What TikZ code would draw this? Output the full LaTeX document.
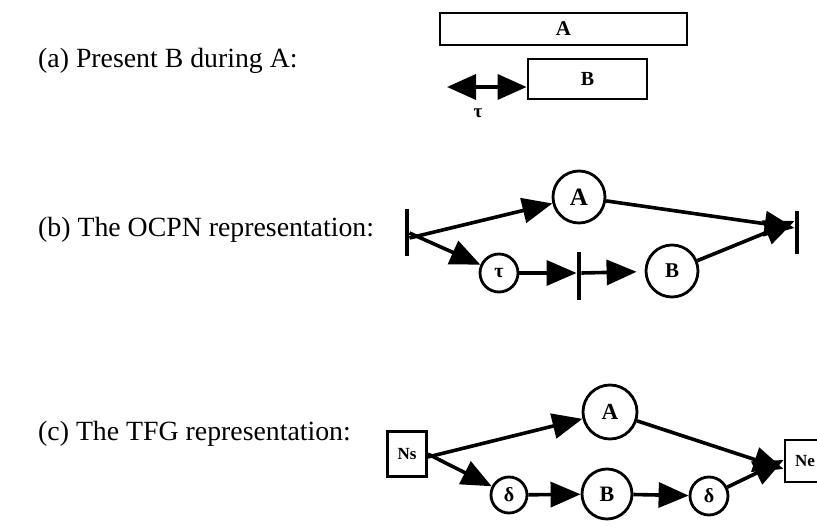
\documentclass[tikz,border=0pt]{standalone}
\usepackage{fontspec}
\setmainfont{Liberation Serif}
\usetikzlibrary{arrows.meta}
\begin{document}
\begin{tikzpicture}[x=1pt,y=-1pt,
  lbl/.style={anchor=base west,inner sep=0pt,font=\fontsize{27.8}{30}\selectfont},
  wire/.style={line width=3.6pt,-{Triangle[length=30pt,width=25pt]}},
  tbar/.style={fill=black,draw=none,minimum width=4.5pt,inner sep=0pt},
  place/.style={circle,draw,line width=2.8pt,inner sep=0pt},
  box/.style={rectangle,draw,line width=2.8pt,inner sep=0pt}]
\useasboundingbox (0,0) rectangle (817,529);

% (a) interval relation
\node[lbl] (la) at (38,68) {(a) Present B during A:};
\node[box,minimum width=247pt,minimum height=32pt,font=\bfseries\fontsize{21}{22}\selectfont] (boxA) at (563.5,29) {A};
\node[box,minimum width=119pt,minimum height=40pt,font=\bfseries\fontsize{20}{22}\selectfont] (boxB) at (587.5,79) {B};
\coordinate (dl) at (447,87);
\draw[line width=3.6pt,{Triangle[length=29pt,width=25pt]}-{Triangle[length=29pt,width=25pt]}] (dl) -- (dl -| boxB.west);
\node[font=\bfseries\fontsize{19}{20}\selectfont] (tau) at (478,113) {τ};

% (b) OCPN
\node[lbl] (lb) at (38,237) {(b) The OCPN representation:};
\node[tbar,minimum height=47pt] (barL) at (407,233) {};
\node[tbar,minimum height=48pt] (barM) at (579,276) {};
\node[tbar,minimum height=43pt] (barR) at (797,233) {};
\node[place,minimum size=52pt,font=\bfseries\fontsize{25}{26}\selectfont] (pA) at (579,197) {A};
\node[place,minimum size=38pt,font=\bfseries\fontsize{20}{22}\selectfont] (pT) at (499,273) {τ};
\node[place,minimum size=52pt,font=\bfseries\fontsize{21}{22}\selectfont] (pB) at (672,271) {\raisebox{-6pt}{B}};
\draw[wire] ([yshift=-5pt]barL.east) -- (pA);
\draw[wire] (barL.east) -- (pT);
\draw[wire] (pT) -- (pT -| barM.west);
\draw[wire,shorten >=8pt] (barM.east |- pT) -- (pB);
\draw[wire] (pA) -- ([yshift=5pt]barR.west);
\draw[wire] (pB) -- ([yshift=12pt]barR.west);

% (c) TFG
\node[lbl] (lc) at (38,440) {(c) The TFG representation:};
\node[box,minimum width=39pt,minimum height=45pt,font=\bfseries\fontsize{17}{18}\selectfont] (Ns) at (407,454) {Ns};
\node[box,minimum width=40pt,minimum height=42pt,font=\bfseries\fontsize{17}{18}\selectfont] (Ne) at (805,461) {Ne};
\node[place,minimum size=54pt,font=\bfseries\fontsize{23}{24}\selectfont] (cA) at (610,412) {A};
\node[place,minimum size=36pt,font=\bfseries\fontsize{20}{22}\selectfont] (d1) at (509,495) {δ};
\node[place,minimum size=50pt,font=\bfseries\fontsize{22}{24}\selectfont] (cB) at (607,494) {B};
\node[place,minimum size=38pt,font=\bfseries\fontsize{20}{22}\selectfont] (d2) at (709,496) {δ};
\draw[wire] ([yshift=-3pt]Ns.east) -- (cA);
\draw[wire] (Ns.east) -- (d1);
\draw[wire] (d1) -- (cB);
\draw[wire] (cB) -- (d2);
\draw[wire] (cA) -- ([yshift=-8pt]Ne.west);
\draw[wire] (d2) -- ([yshift=1pt]Ne.west);
\end{tikzpicture}
\end{document}
